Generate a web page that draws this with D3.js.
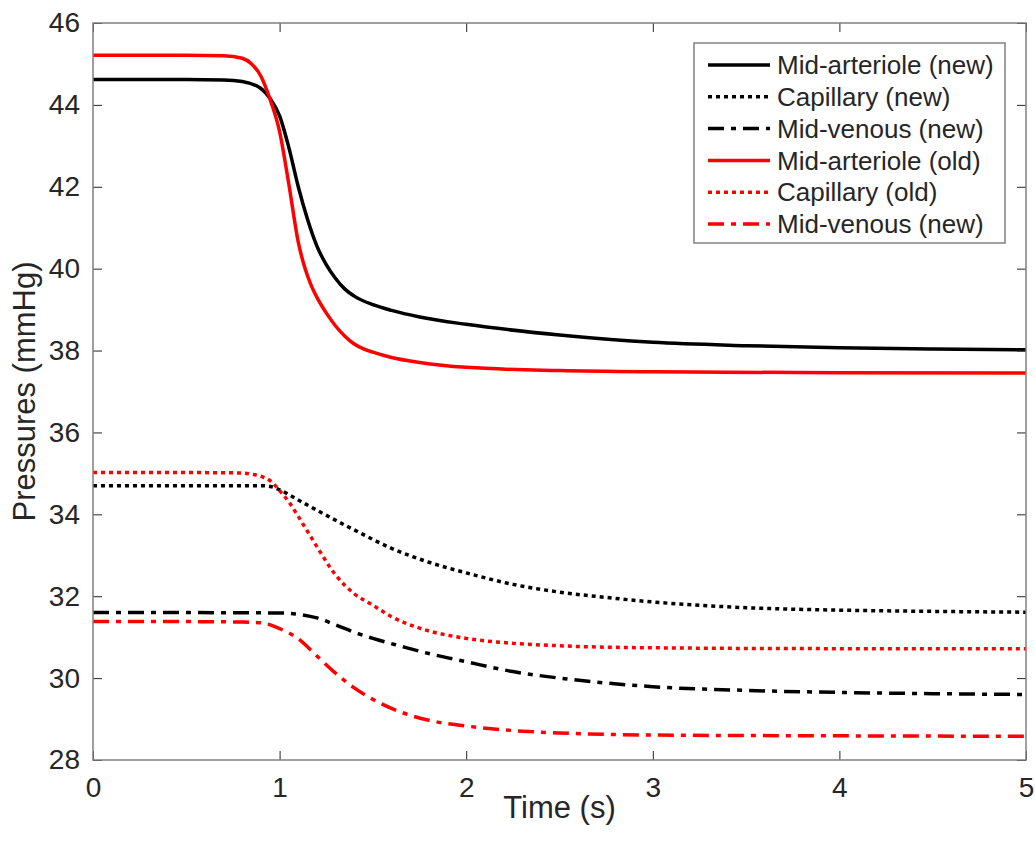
<!DOCTYPE html>
<html>
<head>
<meta charset="utf-8">
<script src="https://cdn.jsdelivr.net/npm/d3@7"></script>
<style>
  body { margin: 0; background: #fff; }
  text { font-family: "Liberation Sans", Arial, sans-serif; fill: #262626; }
</style>
</head>
<body>
<div id="chart"></div>
<script>
// Values
const artNewT = [0, 0.5, 0.7, 0.8, 0.9, 0.95, 1.0, 1.05, 1.1, 1.15, 1.2, 1.25, 1.3, 1.35, 1.4, 1.5, 1.6, 1.75, 2.0, 2.5, 3.0, 3.5, 4.0, 4.5, 5.0];
const artNewV = [44.62, 44.62, 44.61, 44.57, 44.40, 44.15, 43.73, 42.95, 42.00, 41.20, 40.55, 40.10, 39.76, 39.50, 39.33, 39.12, 38.98, 38.82, 38.64, 38.38, 38.20, 38.12, 38.07, 38.04, 38.02];

const capNewT = [0, 0.5, 0.9, 0.95, 1.0, 1.1, 1.2, 1.4, 1.6, 1.8, 2.0, 2.25, 2.5, 2.75, 3.0, 3.5, 4.0, 4.5, 5.0];
const capNewV = [34.70, 34.70, 34.70, 34.68, 34.60, 34.35, 34.10, 33.62, 33.17, 32.83, 32.57, 32.29, 32.10, 31.97, 31.86, 31.72, 31.66, 31.63, 31.61];

const venNewT = [0, 0.5, 1.0, 1.1, 1.2, 1.3, 1.4, 1.5, 1.65, 1.8, 2.0, 2.25, 2.5, 2.75, 3.0, 3.5, 4.0, 4.5, 5.0];
const venNewV = [31.60, 31.60, 31.59, 31.56, 31.47, 31.30, 31.12, 30.97, 30.78, 30.60, 30.40, 30.16, 30.00, 29.88, 29.79, 29.70, 29.65, 29.62, 29.60];

const artOldT = [0, 0.5, 0.7, 0.8, 0.85, 0.9, 0.95, 1.0, 1.05, 1.1, 1.125, 1.15, 1.175, 1.2, 1.25, 1.3, 1.35, 1.4, 1.45, 1.5, 1.6, 1.75, 2.0, 2.5, 3.0, 4.0, 5.0];
const artOldV = [45.21, 45.21, 45.20, 45.14, 45.00, 44.70, 44.12, 43.35, 42.05, 40.65, 40.18, 39.82, 39.53, 39.30, 38.92, 38.60, 38.35, 38.16, 38.04, 37.96, 37.83, 37.71, 37.59, 37.51, 37.48, 37.46, 37.45];

const capOldT = [0, 0.5, 0.8, 0.85, 0.9, 0.95, 1.0, 1.05, 1.1, 1.15, 1.2, 1.3, 1.4, 1.5, 1.6, 1.75, 2.0, 2.25, 2.5, 3.0, 4.0, 5.0];
const capOldV = [35.02, 35.02, 35.01, 34.98, 34.93, 34.82, 34.58, 34.30, 33.95, 33.58, 33.21, 32.52, 32.06, 31.78, 31.50, 31.22, 30.97, 30.85, 30.79, 30.74, 30.72, 30.72];

const venOldT = [0, 0.5, 0.8, 0.9, 0.95, 1.0, 1.1, 1.2, 1.3, 1.4, 1.5, 1.65, 1.8, 2.0, 2.25, 2.5, 3.0, 4.0, 5.0];
const venOldV = [31.38, 31.38, 31.37, 31.35, 31.30, 31.21, 30.96, 30.54, 30.12, 29.76, 29.48, 29.17, 28.97, 28.83, 28.72, 28.66, 28.61, 28.59, 28.58];

const seriesNames = ["Mid-arteriole (new)", "Capillary (new)", "Mid-venous (new)",
                     "Mid-arteriole (old)", "Capillary (old)", "Mid-venous (new)"];
const xTicks = [0, 1, 2, 3, 4, 5];
const yTicks = [28, 30, 32, 34, 36, 38, 40, 42, 44, 46];

// line looks per series
const solid = null, dotted = "4 4", dashDot = "16 7 5 7";
const series = [
  { name: seriesNames[0], t: artNewT, v: artNewV, color: "#000", dash: solid },
  { name: seriesNames[1], t: capNewT, v: capNewV, color: "#000", dash: dotted },
  { name: seriesNames[2], t: venNewT, v: venNewV, color: "#000", dash: dashDot },
  { name: seriesNames[3], t: artOldT, v: artOldV, color: "#f00", dash: solid },
  { name: seriesNames[4], t: capOldT, v: capOldV, color: "#f00", dash: dotted },
  { name: seriesNames[5], t: venOldT, v: venOldV, color: "#f00", dash: dashDot }
];

const width = 1035, height = 841;
const margin = { left: 93, right: 9, top: 23, bottom: 81 };

const svg = d3.select("#chart").append("svg")
    .attr("width", width)
    .attr("height", height);

const x = d3.scaleLinear().domain([0, 5]).range([margin.left, width - margin.right]);
const y = d3.scaleLinear().domain([28, 46]).range([height - margin.bottom, margin.top]);

const line = d3.line()
    .x(d => x(d[0]))
    .y(d => y(d[1]))
    .curve(d3.curveMonotoneX);

// clip to plot box
svg.append("clipPath").attr("id", "clip")
  .append("rect")
    .attr("x", x(0)).attr("y", y(46))
    .attr("width", x(5) - x(0)).attr("height", y(28) - y(46));

const plot = svg.append("g").attr("clip-path", "url(#clip)");

series.forEach(s => {
    plot.append("path")
        .datum(s.t.map((t, i) => [t, s.v[i]]))
        .attr("fill", "none")
        .attr("stroke", s.color)
        .attr("stroke-width", 3.5)
        .attr("stroke-dasharray", s.dash)
        .attr("d", line);
});

// axes: ticks inside, mirrored on top and right
const tickLen = 9;
const axisG = svg.append("g");

axisG.append("g")
    .attr("transform", `translate(0,${y(28)})`)
    .call(d3.axisBottom(x).tickValues(xTicks).tickSize(-tickLen).tickPadding(tickLen + 8).tickFormat(d3.format("d")));
axisG.append("g")
    .attr("transform", `translate(0,${y(46)})`)
    .call(d3.axisTop(x).tickValues(xTicks).tickSize(-tickLen).tickFormat(""));
axisG.append("g")
    .attr("transform", `translate(${x(0)},0)`)
    .call(d3.axisLeft(y).tickValues(yTicks).tickSize(-tickLen).tickPadding(tickLen + 4).tickFormat(d3.format("d")));
axisG.append("g")
    .attr("transform", `translate(${x(5)},0)`)
    .call(d3.axisRight(y).tickValues(yTicks).tickSize(-tickLen).tickFormat(""));

axisG.selectAll(".domain").remove();
axisG.selectAll(".tick line").attr("stroke", "#262626").attr("stroke-width", 1);
axisG.selectAll(".tick text")
    .attr("font-size", 28)
    .attr("font-family", "Liberation Sans, Arial, sans-serif")
    .attr("fill", "#262626");

svg.append("rect")
    .attr("x", x(0)).attr("y", y(46))
    .attr("width", x(5) - x(0)).attr("height", y(28) - y(46))
    .attr("fill", "none")
    .attr("stroke", "#808080")
    .attr("stroke-width", 1.5);

// axis labels
svg.append("text")
    .attr("x", (x(0) + x(5)) / 2)
    .attr("y", 818)
    .attr("text-anchor", "middle")
    .attr("font-size", 31)
    .text("Time (s)");

svg.append("text")
    .attr("transform", `translate(35,${(y(28) + y(46)) / 2}) rotate(-90)`)
    .attr("text-anchor", "middle")
    .attr("font-size", 31)
    .text("Pressures (mmHg)");

// legend
const legend = svg.append("g").attr("transform", "translate(694,43)");
legend.append("rect")
    .attr("width", 311).attr("height", 200)
    .attr("fill", "#fff")
    .attr("stroke", "#808080")
    .attr("stroke-width", 1.5);

series.forEach((s, i) => {
    const row = legend.append("g").attr("transform", `translate(0,${22 + i * 31.8})`);
    row.append("line")
        .attr("x1", 14).attr("x2", 76)
        .attr("stroke", s.color)
        .attr("stroke-width", 3.5)
        .attr("stroke-dasharray", s.dash);
    row.append("text")
        .attr("x", 83)
        .attr("dy", "0.35em")
        .attr("font-size", 26)
        .attr("fill", "#000")
        .text(s.name);
});
</script>
</body>
</html>
